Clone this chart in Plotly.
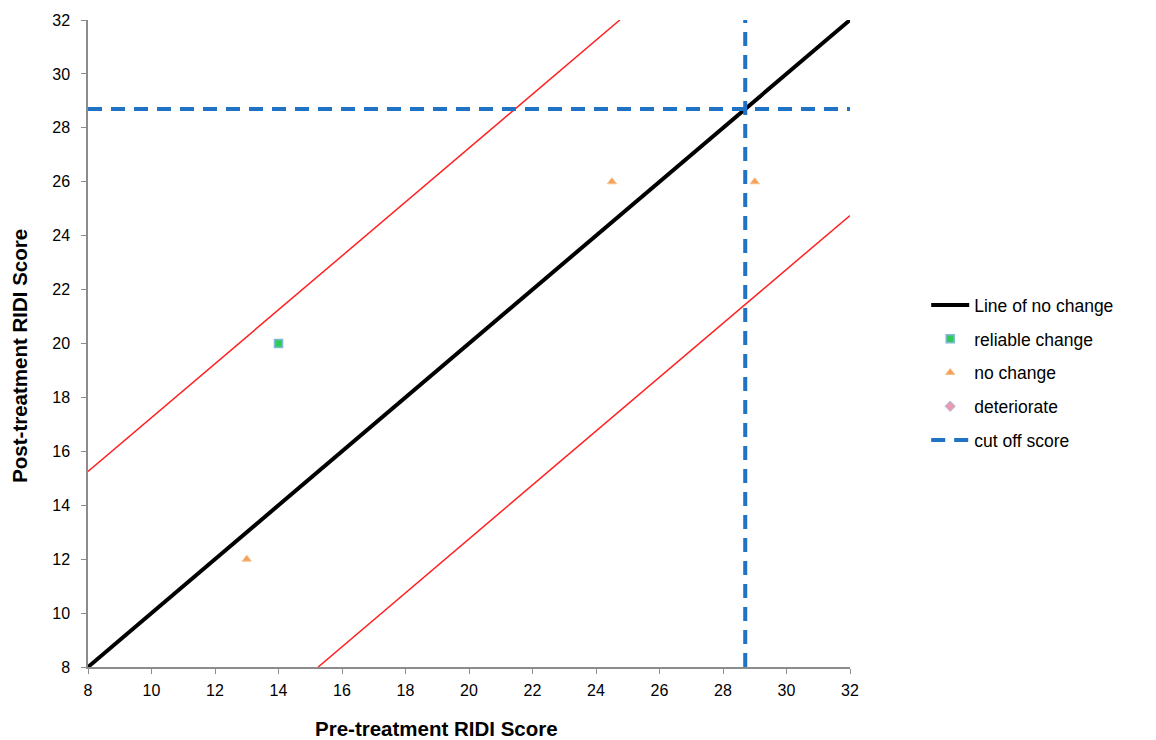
import plotly.graph_objects as go

# ---- data ----
axis_min, axis_max = 8, 32
tick_vals = list(range(8, 33, 2))

no_change_line_x = [8, 32]
no_change_line_y = [8, 32]

rci = 7.25  # reliable change band half-width
upper_x = [8, 32 - rci]
upper_y = [8 + rci, 32]
lower_x = [8 + rci, 32]
lower_y = [8, 32 - rci]

reliable_x = [14]
reliable_y = [20]
nochange_x = [13, 24.5, 29]
nochange_y = [12, 26, 26]
deteriorate_x = [None]
deteriorate_y = [None]

cutoff = 28.7
cut_h_x = [8, 32]
cut_h_y = [cutoff, cutoff]
cut_v_x = [cutoff, cutoff]
cut_v_y = [8, 32]

FONT = "Liberation Sans, Arial, sans-serif"
DASH = "14px,9px"

fig = go.Figure()
fig.add_trace(go.Scatter(x=upper_x, y=upper_y, mode="lines",
                         line=dict(color="#ff2020", width=1.5), showlegend=False, hoverinfo="skip"))
fig.add_trace(go.Scatter(x=lower_x, y=lower_y, mode="lines",
                         line=dict(color="#ff2020", width=1.5), showlegend=False, hoverinfo="skip"))
fig.add_trace(go.Scatter(x=no_change_line_x, y=no_change_line_y, mode="lines",
                         name="Line of no change", legendgroup="g1",
                         line=dict(color="black", width=4)))
fig.add_trace(go.Scatter(x=reliable_x, y=reliable_y, mode="markers", name="reliable change",
                         legendgroup="g2",
                         marker=dict(symbol="square", size=8, color="#2ecc55",
                                     line=dict(color="#7fb8d8", width=1.5))))
fig.add_trace(go.Scatter(x=nochange_x, y=nochange_y, mode="markers", name="no change",
                         legendgroup="g3",
                         marker=dict(symbol="triangle-up", size=8, color="#f5a05a",
                                     line=dict(color="#f7c08a", width=1))))
fig.add_trace(go.Scatter(x=deteriorate_x, y=deteriorate_y, mode="markers", name="deteriorate",
                         legendgroup="g4",
                         marker=dict(symbol="diamond", size=8, color="#e89ab0",
                                     line=dict(color="#a9c4e0", width=1))))
fig.add_trace(go.Scatter(x=cut_h_x, y=cut_h_y, mode="lines", name="cut off score",
                         line=dict(color="#1f72c4", width=4, dash=DASH),
                         legendgroup="g5"))
fig.add_trace(go.Scatter(x=cut_v_x, y=cut_v_y, mode="lines", name="cut off score",
                         line=dict(color="#1f72c4", width=4, dash=DASH),
                         legendgroup="g5", showlegend=False))

axis_common = dict(
    range=[axis_min, axis_max], tickvals=tick_vals, showgrid=False, zeroline=False,
    showline=True, linecolor="#8c8c8c", linewidth=1.5, ticks="outside", ticklen=5,
    tickcolor="#8c8c8c", tickfont=dict(family=FONT, size=16, color="black"),
)

fig.update_layout(
    width=1156, height=740,
    margin=dict(l=88, r=306, t=17, b=73),
    plot_bgcolor="white", paper_bgcolor="white",
    xaxis=dict(**axis_common, ticklabelstandoff=3),
    yaxis=dict(**axis_common, ticklabelstandoff=8),
    font=dict(family=FONT, color="black"),
    legend=dict(x=1.1, y=0.455, xanchor="left", yanchor="middle",
                font=dict(family=FONT, size=17.5, color="black"),
                bgcolor="rgba(0,0,0,0)", tracegroupgap=8, itemwidth=38),
    annotations=[
        dict(text="<b>Pre-treatment RIDI Score</b>", xref="paper", yref="paper",
             x=(436 - 88) / 762, y=-0.095, xanchor="center", yanchor="middle",
             showarrow=False, font=dict(family=FONT, size=20.5, color="black")),
        dict(text="<b>Post-treatment RIDI Score</b>", xref="paper", yref="paper",
             x=-0.09, y=(667 - 354) / 650, xanchor="center", yanchor="middle",
             textangle=-90, showarrow=False, font=dict(family=FONT, size=20.5, color="black")),
    ],
)

fig.write_html("out.html")
